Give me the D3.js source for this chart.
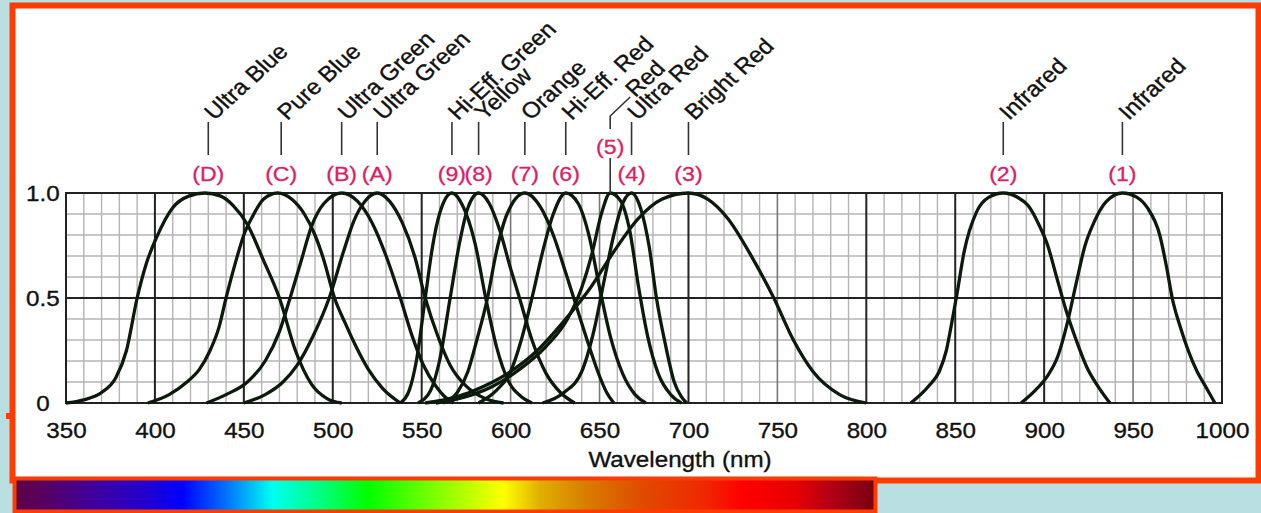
<!DOCTYPE html>
<html>
<head>
<meta charset="utf-8">
<script src="https://cdn.jsdelivr.net/npm/d3@7"></script>
<style>
  body { margin: 0; background: #b9dfe2; }
  svg { display: block; }
  text { font-family: "Liberation Sans", Arial, Helvetica, sans-serif; }
</style>
</head>
<body>
<div id="chart"></div>
<script>
const width = 1261;
const height = 513;
const margin = { top: 193, right: 39, bottom: 110, left: 66 };

// LED relative intensity curves, [wavelength nm, relative output]
const curveD = [[350,0],[360,0.015],[370,0.05],[378,0.12],[384,0.25],[390,0.5],[395,0.66],[401,0.79],[410,0.93],[419,0.985],[428,1],[437,0.985],[444,0.94],[452,0.85],[461,0.68],[470,0.5],[479,0.25],[488,0.09],[497,0.02],[505,0]];
const curveC = [[396,0],[408,0.04],[418,0.1],[425,0.16],[431,0.25],[436,0.36],[440,0.5],[445,0.66],[450,0.8],[455,0.89],[461,0.97],[469,1],[477,0.97],[484,0.9],[490,0.8],[495,0.68],[501,0.5],[507,0.38],[513,0.27],[520,0.16],[528,0.07],[538,0]];
const curveB = [[429,0],[440,0.04],[452,0.1],[462,0.2],[470,0.34],[476,0.5],[482,0.67],[488,0.84],[495,0.95],[505,1],[514,0.96],[522,0.86],[530,0.7],[538,0.5],[545,0.31],[551,0.18],[558,0.08],[563,0.03],[568,0]];
const curveA = [[450,0],[462,0.04],[472,0.1],[480,0.18],[489,0.32],[498,0.5],[506,0.72],[512,0.87],[518,0.96],[525,1],[532,0.96],[539,0.86],[546,0.7],[552,0.5],[559,0.32],[566,0.18],[575,0.08],[586,0.02],[596,0]];
const curve9 = [[538,0],[543,0.06],[547,0.2],[552,0.5],[556,0.74],[560,0.9],[567,1],[573,0.94],[580,0.76],[586,0.5],[592,0.27],[599,0.1],[606,0.03],[612,0]];
const curve8 = [[548,0],[555,0.06],[560,0.2],[566,0.5],[571,0.75],[576,0.93],[582,1],[588,0.95],[594,0.82],[600,0.64],[605,0.5],[612,0.3],[620,0.14],[628,0.05],[636,0]];
const curve7 = [[562,0],[570,0.05],[576,0.15],[581,0.3],[587,0.5],[592,0.72],[598,0.9],[608,1],[617,0.93],[624,0.8],[631,0.62],[637,0.46],[643,0.3],[649,0.15],[654,0.05],[658,0]];
const curve6 = [[582,0],[592,0.06],[600,0.15],[606,0.3],[612,0.5],[618,0.72],[624,0.9],[631,1],[638,0.95],[644,0.8],[650,0.55],[656,0.32],[663,0.14],[670,0.04],[676,0]];
const curve5 = [[558,0],[575,0.03],[590,0.08],[605,0.16],[620,0.27],[632,0.4],[640,0.55],[646,0.72],[651,0.9],[656,1],[662,0.96],[667,0.82],[672,0.55],[677,0.32],[683,0.14],[690,0.04],[696,0]];
const curve4 = [[618,0],[630,0.05],[640,0.15],[647,0.35],[653,0.6],[658,0.8],[663,0.95],[668,1],[673,0.93],[678,0.74],[682,0.5],[687,0.28],[692,0.1],[696,0.03],[699,0]];
const curve3 = [[552,0],[570,0.03],[585,0.08],[600,0.15],[615,0.25],[630,0.39],[645,0.55],[658,0.72],[672,0.88],[685,0.97],[700,1],[711,0.97],[722,0.88],[736,0.69],[748,0.5],[759,0.3],[770,0.15],[785,0.04],[800,0]];
const curve2 = [[825,0],[835,0.08],[841,0.15],[845,0.25],[848,0.38],[851,0.52],[855,0.72],[862,0.91],[869,0.98],[877,1],[885,0.98],[891,0.94],[897,0.85],[902,0.75],[907,0.6],[912,0.45],[918,0.3],[924,0.17],[931,0.07],[937,0]];
const curve1 = [[887,0],[895,0.06],[902,0.13],[908,0.23],[913,0.38],[918,0.57],[923,0.75],[928,0.86],[935,0.96],[944,1],[952,0.98],[958,0.93],[965,0.8],[969,0.64],[972,0.5],[977,0.35],[981,0.25],[986,0.15],[990,0.09],[996,0]];

const allCurves = [curveD, curveC, curveB, curveA, curve9, curve8, curve7, curve6, curve5, curve4, curve3, curve2, curve1];

// labels above the plot
const codes = ["(D)", "(C)", "(B)", "(A)", "(9)", "(8)", "(7)", "(6)", "(5)", "(4)", "(3)", "(2)", "(1)"];
const names = ["Ultra Blue", "Pure Blue", "Ultra Green", "Ultra Green", "Hi-Eff. Green", "Yellow", "Orange", "Hi-Eff. Red", "Red", "Ultra Red", "Bright Red", "Infrared", "Infrared"];
const labelNm = [430, 471, 505, 525, 567, 582, 608, 631, 656, 668, 700, 877, 944];

const xTicks = [350, 400, 450, 500, 550, 600, 650, 700, 750, 800, 850, 900, 950, 1000];
const yTicks = [0, 0.5, 1.0];
const darkLines = [400, 450, 500, 550, 700, 800, 850, 900];
const midLines = [600, 650, 750, 950];

// visible spectrum strip colours
const spectrumStops = [
  [0.00, "#5e0046"], [0.03, "#5a005e"], [0.10, "#3c00a4"], [0.15, "#2400cc"],
  [0.195, "#0000ff"], [0.245, "#0070ff"], [0.30, "#00fff0"], [0.355, "#00ff80"],
  [0.41, "#00ff00"], [0.49, "#80ff00"], [0.568, "#ffff00"], [0.61, "#e0b000"],
  [0.66, "#d88000"], [0.73, "#e04a00"], [0.80, "#f02800"], [0.845, "#ff0000"],
  [0.905, "#e80000"], [0.95, "#b00018"], [1.00, "#780010"]
];

const border = "#ff3c00";
const pink = "#dc1e64";
const ink = "#0c1a0c";

const svg = d3.select("#chart").append("svg")
  .attr("width", width)
  .attr("height", height);

// frame
svg.append("rect")
  .attr("x", 12.5).attr("y", 5.5)
  .attr("width", 1246).attr("height", 475)
  .attr("fill", "white")
  .attr("stroke", border)
  .attr("stroke-width", 6);
svg.append("rect")
  .attr("x", 6).attr("y", 413).attr("width", 6).attr("height", 6)
  .attr("fill", border);

const x = d3.scaleLinear().domain([350, 1000]).range([margin.left, width - margin.right]);
const y = d3.scaleLinear().domain([0, 1]).range([height - margin.bottom, margin.top]);

// grid
const grid = svg.append("g");
grid.selectAll(".vminor")
  .data(d3.range(360, 1000, 10).filter(d => d % 50 !== 0))
  .enter().append("line")
  .attr("x1", d => x(d)).attr("x2", d => x(d))
  .attr("y1", y(0)).attr("y2", y(1))
  .attr("stroke", "#b4b4b4").attr("stroke-width", 1.4);
grid.selectAll(".hminor")
  .data(d3.range(1, 10).map(d => d / 10).filter(d => d !== 0.5))
  .enter().append("line")
  .attr("x1", x(350)).attr("x2", x(1000))
  .attr("y1", d => y(d)).attr("y2", d => y(d))
  .attr("stroke", "#b4b4b4").attr("stroke-width", 1.4);
grid.selectAll(".vmid")
  .data(midLines)
  .enter().append("line")
  .attr("x1", d => x(d)).attr("x2", d => x(d))
  .attr("y1", y(0)).attr("y2", y(1))
  .attr("stroke", "#777").attr("stroke-width", 1.6);
grid.selectAll(".vmajor")
  .data(darkLines)
  .enter().append("line")
  .attr("x1", d => x(d)).attr("x2", d => x(d))
  .attr("y1", y(0)).attr("y2", y(1))
  .attr("stroke", "#222").attr("stroke-width", 2);
grid.append("line")
  .attr("x1", x(350)).attr("x2", x(1000))
  .attr("y1", y(0.5)).attr("y2", y(0.5))
  .attr("stroke", "#222").attr("stroke-width", 2);
grid.append("rect")
  .attr("x", x(350)).attr("y", y(1))
  .attr("width", x(1000) - x(350)).attr("height", y(0) - y(1))
  .attr("fill", "none").attr("stroke", "#222").attr("stroke-width", 2);

// curves
const line = d3.line()
  .x(d => x(d[0]))
  .y(d => y(d[1]))
  .curve(d3.curveMonotoneX);

svg.append("g").selectAll("path")
  .data(allCurves)
  .enter().append("path")
  .attr("d", line)
  .attr("fill", "none")
  .attr("stroke", ink)
  .attr("stroke-width", 3.3);

// axes
const xAxis = svg.append("g")
  .attr("transform", `translate(0,${y(0)})`)
  .call(d3.axisBottom(x).tickValues(xTicks).tickSize(0).tickPadding(19).tickFormat(d3.format("d")));
xAxis.select(".domain").remove();
xAxis.selectAll("text")
  .attr("font-size", 22)
  .attr("fill", "#111")
  .attr("stroke", "#111").attr("stroke-width", 0.35)
  .attr("transform", "scale(1.1,1)");

const yAxis = svg.append("g")
  .attr("transform", `translate(${x(350)},0)`)
  .call(d3.axisLeft(y).tickValues(yTicks).tickSize(0).tickFormat(d => d === 0 ? "0" : d3.format(".1f")(d)));
yAxis.select(".domain").remove();
yAxis.selectAll("text")
  .attr("font-size", 22)
  .attr("fill", "#111")
  .attr("stroke", "#111").attr("stroke-width", 0.35)
  .attr("text-anchor", "middle")
  .attr("x", -21)
  .attr("transform", "scale(1.1,1)");

svg.append("text")
  .attr("transform", "translate(680,467) scale(1.1,1)")
  .attr("text-anchor", "middle")
  .attr("font-size", 22)
  .attr("fill", "#111")
  .attr("stroke", "#111").attr("stroke-width", 0.35)
  .text("Wavelength (nm)");

// labels
const labels = svg.append("g");
codes.forEach((c, i) => {
  const lx = x(labelNm[i]);
  const isRed = c === "(5)";
  labels.append("text")
    .attr("transform", `translate(${lx},${isRed ? 154 : 181}) scale(1.1,1)`)
    .attr("text-anchor", "middle")
    .attr("font-size", 21)
    .attr("fill", pink)
    .attr("stroke", pink).attr("stroke-width", 0.3)
    .text(c);
  if (isRed) {
    labels.append("line")
      .attr("x1", lx).attr("x2", lx).attr("y1", 158).attr("y2", y(1))
      .attr("stroke", "#333").attr("stroke-width", 1.6);
    labels.append("path")
      .attr("d", `M${lx},129V116L${lx + 20},97`)
      .attr("fill", "none").attr("stroke", "#333").attr("stroke-width", 1.6);
    labels.append("text")
      .attr("transform", `translate(${lx + 25},98) scale(1.1,1) rotate(-45)`)
      .attr("font-size", 22)
      .attr("fill", "#111")
      .attr("stroke", "#111").attr("stroke-width", 0.35)
      .text(names[i]);
  } else {
    labels.append("line")
      .attr("x1", lx).attr("x2", lx).attr("y1", 122).attr("y2", 155)
      .attr("stroke", "#333").attr("stroke-width", 1.6);
    labels.append("text")
      .attr("transform", `translate(${lx + 6},121) scale(1.1,1) rotate(-45)`)
      .attr("font-size", 22)
      .attr("fill", "#111")
      .attr("stroke", "#111").attr("stroke-width", 0.35)
      .text(names[i]);
  }
});

// spectrum strip
const grad = svg.append("defs").append("linearGradient")
  .attr("id", "spectrum")
  .attr("x1", "0%").attr("x2", "100%");
grad.selectAll("stop")
  .data(spectrumStops)
  .enter().append("stop")
  .attr("offset", d => d[0])
  .attr("stop-color", d => d[1]);

svg.append("rect")
  .attr("x", 14.5).attr("y", 478.5)
  .attr("width", 861).attr("height", 33)
  .attr("fill", "url(#spectrum)")
  .attr("stroke", border)
  .attr("stroke-width", 4);
</script>
</body>
</html>
